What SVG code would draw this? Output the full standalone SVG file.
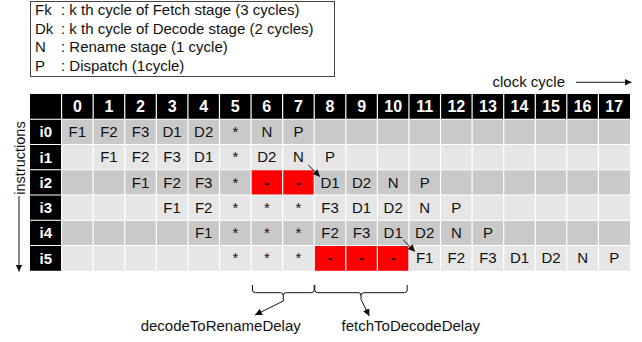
<svg xmlns="http://www.w3.org/2000/svg" width="642" height="342" viewBox="0 0 642 342">
  <style>
    text { font-family: "Liberation Sans", Arial, Helvetica, sans-serif; }
    .leg { font-size: 15px; fill: #111; }
    .hdr { font-size: 16px; font-weight: bold; fill: #fff; text-anchor: middle; }
    .lbl { font-size: 15px; font-weight: bold; fill: #fff; text-anchor: middle; }
    .c { font-size: 15px; fill: #111; text-anchor: middle; }
    .dash { font-size: 15px; font-weight: bold; fill: #111; text-anchor: middle; }
    .note { font-size: 15px; fill: #111; text-anchor: middle; }
    .dark { fill: #c9c9c9; }
    .light { fill: #e6e6e6; }
    .stall { fill: #ff0000; }
    .grid line { stroke: #fff; stroke-width: 1.2; }
    .conn { stroke: #111; stroke-width: 1; fill: none; }
  </style>
  <defs>
    <marker id="arrow" viewBox="0 0 10 10" refX="10" refY="5" markerWidth="7" markerHeight="7" markerUnits="userSpaceOnUse" orient="auto">
      <path d="M0,0 L10,5 L0,10 z" fill="#111"/>
    </marker>
  </defs>

  <rect width="642" height="342" fill="#fff"/>

  <!-- legend -->
  <g id="legend">
    <rect x="30.5" y="1.5" width="304" height="75" fill="#fff" stroke="#444" stroke-width="1"/>
    <text class="leg" x="35" y="15">Fk</text>
    <text class="leg" x="61" y="15">: k th cycle of Fetch stage (3 cycles)</text>
    <text class="leg" x="35" y="33.6">Dk</text>
    <text class="leg" x="61" y="33.6">: k th cycle of Decode stage (2 cycles)</text>
    <text class="leg" x="35" y="52.2">N</text>
    <text class="leg" x="61" y="52.2">: Rename stage (1 cycle)</text>
    <text class="leg" x="35" y="70.8">P</text>
    <text class="leg" x="61" y="70.8">: Dispatch (1cycle)</text>
  </g>

  <!-- axis captions -->
  <g id="clock-axis">
    <text class="leg" x="492.5" y="86.5">clock cycle</text>
    <line class="conn" x1="576" y1="82.3" x2="631.5" y2="82.3" marker-end="url(#arrow)"/>
  </g>
  <g id="instr-axis">
    <text class="leg" text-anchor="middle" transform="translate(24.5,158) rotate(-90)" style="font-size:14.5px">instructions</text>
    <line class="conn" x1="19" y1="196" x2="19" y2="271.5" marker-end="url(#arrow)"/>
  </g>

  <!-- header row -->
  <g id="header">
    <rect x="30" y="94" width="600" height="25.25" fill="#000"/>
    <text class="hdr" x="77.37" y="112.3">0</text>
    <text class="hdr" x="108.95" y="112.3">1</text>
    <text class="hdr" x="140.53" y="112.3">2</text>
    <text class="hdr" x="172.1" y="112.3">3</text>
    <text class="hdr" x="203.7" y="112.3">4</text>
    <text class="hdr" x="235.3" y="112.3">5</text>
    <text class="hdr" x="266.8" y="112.3">6</text>
    <text class="hdr" x="298.4" y="112.3">7</text>
    <text class="hdr" x="330" y="112.3">8</text>
    <text class="hdr" x="361.6" y="112.3">9</text>
    <text class="hdr" x="393.2" y="112.3">10</text>
    <text class="hdr" x="424.7" y="112.3">11</text>
    <text class="hdr" x="456.3" y="112.3">12</text>
    <text class="hdr" x="487.9" y="112.3">13</text>
    <text class="hdr" x="519.5" y="112.3">14</text>
    <text class="hdr" x="551.1" y="112.3">15</text>
    <text class="hdr" x="582.6" y="112.3">16</text>
    <text class="hdr" x="614.2" y="112.3">17</text>
  </g>

  <!-- instruction rows -->
  <g id="row-i0">
    <rect class="dark" x="61.58" y="119.25" width="568.42" height="25.25"/>
    <rect x="30" y="119.25" width="31.58" height="25.25" fill="#000"/>
    <text class="lbl" x="45.8" y="137.3">i0</text>
    <text class="c" x="77.37" y="137.2">F1</text>
    <text class="c" x="108.95" y="137.2">F2</text>
    <text class="c" x="140.53" y="137.2">F3</text>
    <text class="c" x="172.1" y="137.2">D1</text>
    <text class="c" x="203.7" y="137.2">D2</text>
    <text class="c" x="235.3" y="137.2">*</text>
    <text class="c" x="266.8" y="137.2">N</text>
    <text class="c" x="298.4" y="137.2">P</text>
  </g>
  <g id="row-i1">
    <rect class="light" x="61.58" y="144.5" width="568.42" height="25.25"/>
    <rect x="30" y="144.5" width="31.58" height="25.25" fill="#000"/>
    <text class="lbl" x="45.8" y="162.5">i1</text>
    <text class="c" x="108.95" y="162.4">F1</text>
    <text class="c" x="140.53" y="162.4">F2</text>
    <text class="c" x="172.1" y="162.4">F3</text>
    <text class="c" x="203.7" y="162.4">D1</text>
    <text class="c" x="235.3" y="162.4">*</text>
    <text class="c" x="266.8" y="162.4">D2</text>
    <text class="c" x="298.4" y="162.4">N</text>
    <text class="c" x="330" y="162.4">P</text>
  </g>
  <g id="row-i2">
    <rect class="dark" x="61.58" y="169.75" width="568.42" height="25.25"/>
    <rect x="30" y="169.75" width="31.58" height="25.25" fill="#000"/>
    <rect class="stall" x="251.05" y="169.75" width="63.16" height="25.25"/>
    <text class="lbl" x="45.8" y="187.8">i2</text>
    <text class="c" x="140.53" y="187.7">F1</text>
    <text class="c" x="172.1" y="187.7">F2</text>
    <text class="c" x="203.7" y="187.7">F3</text>
    <text class="c" x="235.3" y="187.7">*</text>
    <text class="dash" x="266.8" y="187.7">-</text>
    <text class="dash" x="298.4" y="187.7">-</text>
    <text class="c" x="330" y="187.7">D1</text>
    <text class="c" x="361.6" y="187.7">D2</text>
    <text class="c" x="393.2" y="187.7">N</text>
    <text class="c" x="424.7" y="187.7">P</text>
  </g>
  <g id="row-i3">
    <rect class="light" x="61.58" y="195" width="568.42" height="25.25"/>
    <rect x="30" y="195" width="31.58" height="25.25" fill="#000"/>
    <text class="lbl" x="45.8" y="213">i3</text>
    <text class="c" x="172.1" y="212.9">F1</text>
    <text class="c" x="203.7" y="212.9">F2</text>
    <text class="c" x="235.3" y="212.9">*</text>
    <text class="c" x="266.8" y="212.9">*</text>
    <text class="c" x="298.4" y="212.9">*</text>
    <text class="c" x="330" y="212.9">F3</text>
    <text class="c" x="361.6" y="212.9">D1</text>
    <text class="c" x="393.2" y="212.9">D2</text>
    <text class="c" x="424.7" y="212.9">N</text>
    <text class="c" x="456.3" y="212.9">P</text>
  </g>
  <g id="row-i4">
    <rect class="dark" x="61.58" y="220.25" width="568.42" height="25.25"/>
    <rect x="30" y="220.25" width="31.58" height="25.25" fill="#000"/>
    <text class="lbl" x="45.8" y="238.3">i4</text>
    <text class="c" x="203.7" y="238.2">F1</text>
    <text class="c" x="235.3" y="238.2">*</text>
    <text class="c" x="266.8" y="238.2">*</text>
    <text class="c" x="298.4" y="238.2">*</text>
    <text class="c" x="330" y="238.2">F2</text>
    <text class="c" x="361.6" y="238.2">F3</text>
    <text class="c" x="393.2" y="238.2">D1</text>
    <text class="c" x="424.7" y="238.2">D2</text>
    <text class="c" x="456.3" y="238.2">N</text>
    <text class="c" x="487.9" y="238.2">P</text>
  </g>
  <g id="row-i5">
    <rect class="light" x="61.58" y="245.5" width="568.42" height="25.25"/>
    <rect x="30" y="245.5" width="31.58" height="25.25" fill="#000"/>
    <rect class="stall" x="314.21" y="245.5" width="94.74" height="25.25"/>
    <text class="lbl" x="45.8" y="263.5">i5</text>
    <text class="c" x="235.3" y="263.4">*</text>
    <text class="c" x="266.8" y="263.4">*</text>
    <text class="c" x="298.4" y="263.4">*</text>
    <text class="dash" x="330" y="263.4">-</text>
    <text class="dash" x="361.6" y="263.4">-</text>
    <text class="dash" x="393.2" y="263.4">-</text>
    <text class="c" x="424.7" y="263.4">F1</text>
    <text class="c" x="456.3" y="263.4">F2</text>
    <text class="c" x="487.9" y="263.4">F3</text>
    <text class="c" x="519.5" y="263.4">D1</text>
    <text class="c" x="551.1" y="263.4">D2</text>
    <text class="c" x="582.6" y="263.4">N</text>
    <text class="c" x="614.2" y="263.4">P</text>
  </g>

  <!-- white cell separators -->
  <g class="grid">
    <line x1="61.58" y1="94" x2="61.58" y2="270.75"/>
    <line x1="93.16" y1="94" x2="93.16" y2="270.75"/>
    <line x1="124.74" y1="94" x2="124.74" y2="270.75"/>
    <line x1="156.32" y1="94" x2="156.32" y2="270.75"/>
    <line x1="187.89" y1="94" x2="187.89" y2="270.75"/>
    <line x1="219.47" y1="94" x2="219.47" y2="270.75"/>
    <line x1="251.05" y1="94" x2="251.05" y2="270.75"/>
    <line x1="282.63" y1="94" x2="282.63" y2="270.75"/>
    <line x1="314.21" y1="94" x2="314.21" y2="270.75"/>
    <line x1="345.79" y1="94" x2="345.79" y2="270.75"/>
    <line x1="377.37" y1="94" x2="377.37" y2="270.75"/>
    <line x1="408.95" y1="94" x2="408.95" y2="270.75"/>
    <line x1="440.53" y1="94" x2="440.53" y2="270.75"/>
    <line x1="472.1" y1="94" x2="472.1" y2="270.75"/>
    <line x1="503.7" y1="94" x2="503.7" y2="270.75"/>
    <line x1="535.3" y1="94" x2="535.3" y2="270.75"/>
    <line x1="566.8" y1="94" x2="566.8" y2="270.75"/>
    <line x1="598.4" y1="94" x2="598.4" y2="270.75"/>
    <line x1="30" y1="119.25" x2="630" y2="119.25"/>
    <line x1="30" y1="144.5" x2="630" y2="144.5"/>
    <line x1="30" y1="169.75" x2="630" y2="169.75"/>
    <line x1="30" y1="195" x2="630" y2="195"/>
    <line x1="30" y1="220.25" x2="630" y2="220.25"/>
    <line x1="30" y1="245.5" x2="630" y2="245.5"/>
  </g>

  <!-- dependency arrows and delay braces -->
  <g id="connectors">
    <line class="conn" x1="308.3" y1="165" x2="320" y2="176.7" marker-end="url(#arrow)"/>
    <line class="conn" x1="403.3" y1="240" x2="415" y2="251.7" marker-end="url(#arrow)"/>
    <path class="conn" d="M252.5,285 V290 Q252.5,292.7 255.5,292.7 H280.5 Q283.3,292.7 283.3,295.5 V301 M283.3,295.5 Q283.3,292.7 286.2,292.7 H311.3 Q314.2,292.7 314.2,290 V285"/>
    <path class="conn" d="M314.8,285 V290 Q314.8,292.7 317.8,292.7 H358.2 Q361,292.7 361,295.5 V299.5 M361,295.5 Q361,292.7 363.8,292.7 H404.3 Q407.2,292.7 407.2,290 V285"/>
    <line class="conn" x1="283.3" y1="301" x2="255" y2="315" marker-end="url(#arrow)"/>
    <line class="conn" x1="361" y1="299.5" x2="369.3" y2="316" marker-end="url(#arrow)"/>
  </g>

  <g id="delay-labels">
    <text class="note" x="220.7" y="331">decodeToRenameDelay</text>
    <text class="note" x="410.8" y="331">fetchToDecodeDelay</text>
  </g>
</svg>
